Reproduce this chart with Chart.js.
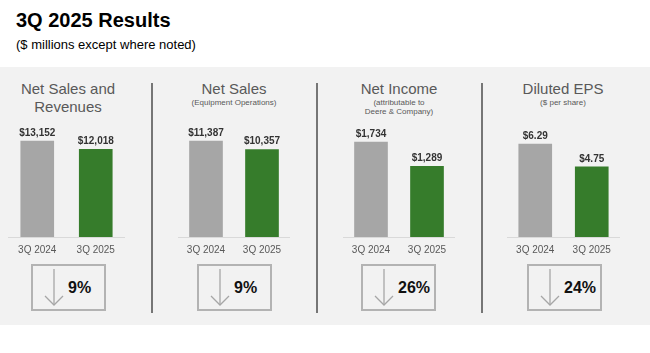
<!DOCTYPE html>
<html>
<head>
<meta charset="utf-8">
<script src="https://cdn.jsdelivr.net/npm/chart.js@4"></script>
<style>
  body { margin: 0; width: 650px; height: 353px; background: #fff; font-family: "Liberation Sans", Arial, sans-serif; overflow: hidden; }
  #wrap { position: relative; width: 650px; height: 353px; }
  .abs { position: absolute; }
  #band { left: 0; top: 67px; width: 650px; height: 258px; background: #f2f2f2; }
  .divider { width: 2px; top: 83px; height: 230px; background: #767676; }
  .ptitle { width: 160px; text-align: center; color: #595959; font-size: 15px; line-height: 18px; }
  .psub { width: 160px; text-align: center; color: #595959; font-size: 8px; line-height: 9px; }
  .box { top: 264px; width: 71px; height: 43px; border: 2px solid #b3b3b3; }
  .box svg { position: absolute; left: 0; top: 0; }
  .pct { position: absolute; left: 35px; top: 13px; font-size: 16px; font-weight: bold; color: #111; line-height: 18px; }
</style>
</head>
<body>
<div id="wrap">
  <div class="abs" style="left:16px;top:9px;font-size:20px;font-weight:bold;color:#000;">3Q 2025 Results</div>
  <div class="abs" style="left:16px;top:37px;font-size:13px;color:#000;">($ millions except where noted)</div>
  <div class="abs" id="band"></div>
</div>
<script>
// data
const periods = ['3Q 2024', '3Q 2025'];
const salesAndRevenues = [13152, 12018];
const equipmentSales = [11387, 10357];
const netIncome = [1734, 1289];
const dilutedEps = [6.29, 4.75];
const changes = ['9%', '9%', '26%', '24%'];
const panelTitles = ['Net Sales and\nRevenues', 'Net Sales', 'Net Income', 'Diluted EPS'];
const panelNotes = ['', '(Equipment Operations)', '(attributable to\nDeere & Company)', '($ per share)'];

const barColors = ['#a6a6a6', '#367c2b'];

const panels = [
  { values: salesAndRevenues, max: 14660, eps: false, left: 8, width: 117, center: 68, box: 31 },
  { values: equipmentSales, max: 12690, eps: false, left: 178, width: 112, center: 234, box: 197 },
  { values: netIncome, max: 1953, eps: false, left: 343, width: 112, center: 399, box: 361 },
  { values: dilutedEps, max: 7.24, eps: true, left: 507, width: 113, center: 563, box: 527 }
];

const wrap = document.getElementById('wrap');

[152, 317, 482].forEach(function(x){
  let d = document.createElement('div');
  d.className = 'abs divider';
  d.style.left = (x - 1) + 'px';
  wrap.append(d);
});

function money(v, eps){
  if (eps) return '$' + v.toFixed(2);
  return '$' + v.toLocaleString('en-US');
}

const valueLabels = {
  id: 'valueLabels',
  afterDatasetsDraw(chart){
    let ctx = chart.ctx;
    let meta = chart.getDatasetMeta(0);
    let eps = chart.options.plugins.valueLabels.eps;
    ctx.save();
    ctx.font = 'bold 10px "Liberation Sans", Arial, sans-serif';
    ctx.fillStyle = '#333';
    ctx.textAlign = 'center';
    ctx.textBaseline = 'bottom';
    meta.data.forEach(function(bar, i){
      ctx.fillText(money(chart.data.datasets[0].data[i], eps), bar.x, bar.y - 3);
    });
    ctx.restore();
  }
};

for (let i = 0; i < panels.length; i++)
{
  let p = panels[i];

  let t = document.createElement('div');
  t.className = 'abs ptitle';
  t.style.left = (p.center - 80) + 'px';
  t.style.top = '80px';
  t.innerHTML = panelTitles[i].replace('\n', '<br>');
  wrap.append(t);

  if (panelNotes[i])
  {
    let s = document.createElement('div');
    s.className = 'abs psub';
    s.style.left = (p.center - 80) + 'px';
    s.style.top = '98px';
    s.innerHTML = panelNotes[i].replace('\n', '<br>').replace('&', '&amp;');
    wrap.append(s);
  }

  let canvas = document.createElement('canvas');
  canvas.className = 'abs';
  canvas.width = p.width;
  canvas.height = 147;
  canvas.style.left = p.left + 'px';
  canvas.style.top = '110px';
  canvas.style.width = p.width + 'px';
  canvas.style.height = '147px';
  wrap.append(canvas);

  new Chart(canvas, {
    type: 'bar',
    data: {
      labels: periods,
      datasets: [{
        data: p.values,
        backgroundColor: barColors,
        borderWidth: 0,
        barThickness: 33
      }]
    },
    options: {
      responsive: false,
      animation: false,
      devicePixelRatio: 1,
      layout: { padding: { top: 20, left: 0, right: 0, bottom: 0 } },
      plugins: {
        legend: { display: false },
        tooltip: { enabled: false },
        valueLabels: { eps: p.eps }
      },
      scales: {
        x: {
          grid: { display: false, drawTicks: false },
          border: { display: true, color: '#d9d9d9', width: 1 },
          ticks: { color: '#595959', padding: 7, font: { size: 10, family: '"Liberation Sans", Arial, sans-serif' } },
          afterFit: function(s){ s.height = 20; }
        },
        y: { display: false, min: 0, max: p.max }
      }
    },
    plugins: [valueLabels]
  });

  let box = document.createElement('div');
  box.className = 'abs box';
  box.style.left = p.box + 'px';
  box.innerHTML = '<svg width="71" height="43"><g stroke="#a6a6a6" stroke-width="1.3" fill="none">' +
    '<line x1="21" y1="3" x2="21" y2="39"/><polyline points="12,30 21,39 30,30"/></g></svg>' +
    '<div class="pct">' + changes[i] + '</div>';
  wrap.append(box);
}
</script>
</body>
</html>
